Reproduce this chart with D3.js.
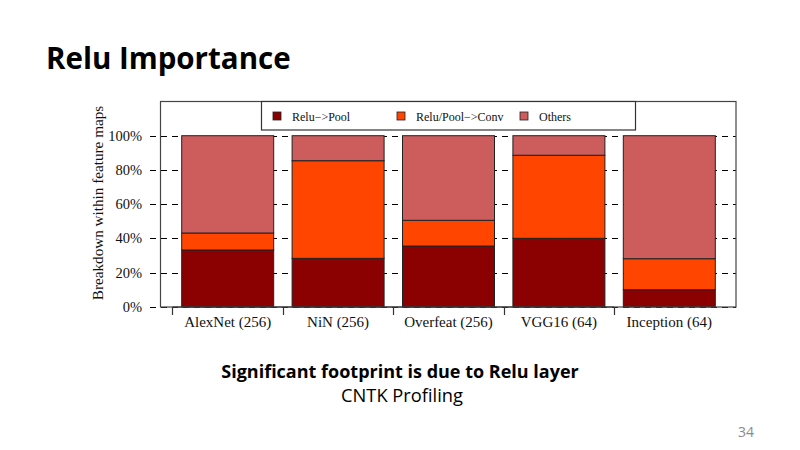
<!DOCTYPE html>
<html><head><meta charset="utf-8">
<script src="https://cdn.jsdelivr.net/npm/d3@7"></script>
<style>body{margin:0;background:#fff}svg{display:block}</style>
</head><body>
<svg id="c" width="800" height="450"></svg>
<script>
const categories = ["AlexNet (256)", "NiN (256)", "Overfeat (256)", "VGG16 (64)", "Inception (64)"];
const seriesNames = ["Relu\u2212>Pool", "Relu/Pool\u2212>Conv", "Others"];
const reluPool = [33.3, 28.4, 35.6, 40.1, 10.1];
const reluPoolConv = [9.9, 57.0, 15.0, 48.5, 18.1];
const others = [56.8, 14.6, 49.4, 11.4, 71.8];
const yTicks = [0, 20, 40, 60, 80, 100];
const colors = ["#8B0000", "#FF4500", "#CD5C5C"];

const svg = d3.select("#c");
const serif = "'Liberation Serif','Times New Roman',serif";
const sans = "'Open Sans',Lato,sans-serif";

// titles
svg.append("text").attr("x", 46).attr("y", 69).attr("font-family", sans).attr("font-weight", 700)
  .attr("font-size", 29.5).attr("fill", "#000").text("Relu Importance");
svg.append("text").attr("x", 400).attr("y", 378).attr("text-anchor", "middle").attr("font-family", sans)
  .attr("font-weight", 700).attr("font-size", 18).attr("fill", "#000").text("Significant footprint is due to Relu layer");
svg.append("text").attr("x", 402).attr("y", 402).attr("text-anchor", "middle").attr("font-family", sans)
  .attr("font-size", 18.3).attr("fill", "#000").text("CNTK Profiling");
svg.append("text").attr("x", 746).attr("y", 437).attr("text-anchor", "middle").attr("font-family", sans)
  .attr("font-size", 14).attr("fill", "#8a8a8a").text("34");

const box = {l: 160.5, r: 736, t: 101.5, b: 307};
const y = d3.scaleLinear().domain([0, 100]).range([307, 135.7]);
const x = d3.scaleBand().domain(categories).range([172.5, 724.5]).paddingInner(0.1667).paddingOuter(0.0833);

// gridlines
svg.append("g").selectAll("line").data(yTicks).join("line")
  .attr("x1", 150).attr("x2", box.r).attr("y1", d => Math.round(y(d)) + 0.5).attr("y2", d => Math.round(y(d)) + 0.5)
  .attr("stroke", "#000").attr("stroke-width", 1.2).attr("stroke-dasharray", "6,5");

// stacked bars
const rows = categories.map((c, i) => ({cat: c, a: reluPool[i], b: reluPoolConv[i], c: others[i]}));
const stack = d3.stack().keys(["a", "b", "c"])(rows);
svg.append("g").selectAll("g").data(stack).join("g").attr("fill", (d, i) => colors[i])
  .selectAll("rect").data(d => d).join("rect")
  .attr("x", d => x(d.data.cat)).attr("width", x.bandwidth())
  .attr("y", d => y(d[1])).attr("height", d => y(d[0]) - y(d[1]))
  .attr("stroke", "#222").attr("stroke-width", 1);

// plot box
svg.append("rect").attr("x", box.l).attr("y", box.t).attr("width", box.r - box.l).attr("height", box.b - box.t)
  .attr("fill", "none").attr("stroke", "#444").attr("stroke-width", 1.2);

// y tick labels
svg.append("g").selectAll("text").data(yTicks).join("text")
  .attr("x", 142).attr("y", d => y(d) + 5).attr("text-anchor", "end")
  .attr("font-family", serif).attr("font-size", 14.5).attr("fill", "#111").text(d => d + "%");

// y axis title
svg.append("text").attr("transform", "translate(103,203) rotate(-90)").attr("text-anchor", "middle")
  .attr("font-family", serif).attr("font-size", 15.2).attr("fill", "#111").text("Breakdown within feature maps");

// x axis: ticks between bars
const step = x.step();
const tickPos = categories.map(c => x(c) - (step - x.bandwidth()) / 2);
const xa = svg.append("g").attr("transform", "translate(0,307)");
xa.append("line").attr("x1", tickPos[0]).attr("x2", tickPos[tickPos.length - 1]).attr("y1", 0).attr("y2", 0)
  .attr("stroke", "#333");
xa.selectAll("line.t").data(tickPos).join("line").attr("class", "t")
  .attr("x1", d => Math.round(d) + 0.5).attr("x2", d => Math.round(d) + 0.5).attr("y1", 0).attr("y2", 8)
  .attr("stroke", "#333").attr("stroke-width", 1.2);
xa.selectAll("text").data(categories).join("text")
  .attr("x", d => x(d) + x.bandwidth() / 2).attr("y", 20).attr("text-anchor", "middle")
  .attr("font-family", serif).attr("font-size", 15).attr("fill", "#111").text(d => d);

// legend
const lg = svg.append("g");
lg.append("rect").attr("x", 261.5).attr("y", 101.5).attr("width", 374).attr("height", 28.5)
  .attr("fill", "#fff").attr("stroke", "#333").attr("stroke-width", 1.2);
const legX = [273, 397, 520];
const items = lg.selectAll("g").data(seriesNames).join("g")
  .attr("transform", (d, i) => `translate(${legX[i]},112)`);
items.append("rect").attr("width", 8).attr("height", 8).attr("fill", (d, i) => colors[i])
  .attr("stroke", "#222").attr("stroke-width", 0.8);
items.append("text").attr("x", 19).attr("y", 8.5).attr("font-family", serif).attr("font-size", 12)
  .attr("fill", "#111").text(d => d);
</script>
</body></html>
